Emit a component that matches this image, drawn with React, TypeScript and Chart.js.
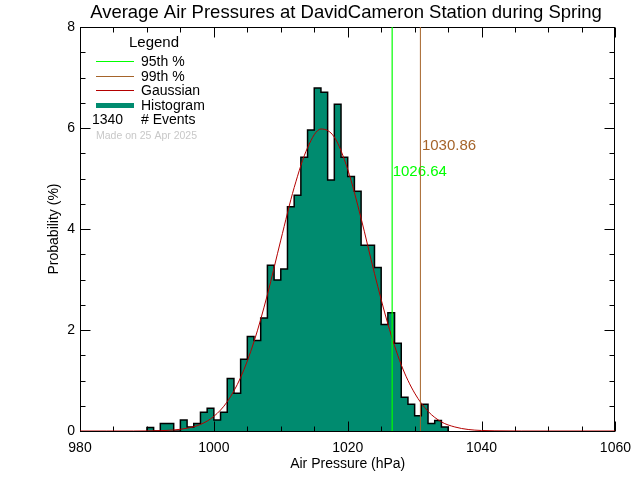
import React, { useEffect, useRef } from "react";
import { Chart, registerables } from "chart.js";

Chart.register(...registerables);

const TITLE = "Average Air Pressures at DavidCameron Station during Spring";
const X_TITLE = "Air Pressure (hPa)";
const Y_TITLE = "Probability (%)";

// histogram bins (left edges, 1 hPa wide) and probabilities (%)
const binEdges = [
  990, 991, 992, 993, 994, 995, 996, 997, 998, 999,
  1000, 1001, 1002, 1003, 1004, 1005, 1006, 1007, 1008, 1009,
  1010, 1011, 1012, 1013, 1014, 1015, 1016, 1017, 1018, 1019,
  1020, 1021, 1022, 1023, 1024, 1025, 1026, 1027, 1028, 1029,
  1030, 1031, 1032, 1033, 1034,
];
const binPercent = [
  0.07, 0, 0.15, 0.15, 0, 0.22, 0.08, 0.15, 0.37, 0.45,
  0.22, 0.37, 1.04, 0.75, 1.42, 1.87, 1.79, 2.24, 3.28, 2.99,
  3.21, 4.44, 4.67, 5.42, 5.96, 6.79, 6.71, 4.97, 6.47, 5.42,
  5.04, 4.75, 3.68, 3.68, 3.24, 2.11, 2.34, 1.74, 0.67, 0.53,
  0.3, 0.53, 0.15, 0.21, 0.08,
];
const BIN_WIDTH = 1;

// gaussian curve
const gaussX = [
  980, 984, 988, 990, 992, 994, 996, 998, 1000, 1002, 1004, 1006, 1008,
  1010, 1012, 1014, 1016, 1018, 1020, 1022, 1024, 1026, 1028, 1030, 1032,
  1034, 1036, 1038, 1040, 1042, 1046, 1050, 1060,
];
const gaussY = [
  0, 0, 0, 0.002, 0.007, 0.021, 0.055, 0.13, 0.29, 0.58, 1.06, 1.77, 2.7,
  3.78, 4.82, 5.61, 5.98, 5.82, 5.18, 4.21, 3.12, 2.12, 1.31, 0.75, 0.39,
  0.18, 0.08, 0.03, 0.01, 0.004, 0, 0, 0,
];

const p95Value = 1026.64;
const p99Value = 1030.86;
const eventCount = 1340;
const madeOn = "Made on 25 Apr 2025";
const legendTitle = "Legend";
const legendLabels = ["95th %", "99th %", "Gaussian", "Histogram"];

const X_MIN = 980, X_MAX = 1060, X_MAJOR = 20, X_MINOR = 5;
const Y_MIN = 0, Y_MAX = 8, Y_MAJOR = 2, Y_MINOR = 0.5;

const COLORS = {
  hist: "#008b6f",
  gauss: "#b40000",
  p95: "#00ff00",
  p99: "#a5642a",
  made: "#c8c8c8",
};
const FONT = "'Liberation Sans', Arial, sans-serif";

const framePlugin = {
  id: "frame",
  beforeDatasetsDraw(chart: any) {
    const { ctx, scales } = chart;
    const xs = scales.x, ys = scales.y;
    ctx.save();
    ctx.font = `15px ${FONT}`;
    ctx.textAlign = "left";
    ctx.textBaseline = "middle";
    ctx.fillStyle = COLORS.p95;
    ctx.fillText(p95Value.toFixed(2), xs.getPixelForValue(p95Value) + 0.5, ys.getPixelForValue(5.14));
    ctx.fillStyle = COLORS.p99;
    ctx.fillText(p99Value.toFixed(2), xs.getPixelForValue(p99Value) + 1.5, ys.getPixelForValue(5.64));
    ctx.restore();
  },
  afterDatasetDraw(chart: any, args: any) {
    if (args.index !== 0) return;
    const { ctx, chartArea: a, scales } = chart;
    const xs = scales.x, ys = scales.y;
    ctx.save();
    ctx.strokeStyle = "#000";
    ctx.lineWidth = 1;
    const L = Math.round(a.left) + 0.5;
    const R = Math.round(a.right) - 0.5;
    const T = Math.round(a.top) + 0.5;
    const B = Math.round(a.bottom) + 0.5;
    ctx.strokeRect(L, T, R - L, B - T);
    ctx.beginPath();
    for (let v = X_MIN; v <= X_MAX + 1e-9; v += X_MINOR) {
      const px = Math.round(xs.getPixelForValue(v)) + 0.5;
      const len = Math.abs((v - X_MIN) % X_MAJOR) < 1e-9 ? 10 : 5;
      ctx.moveTo(px, B); ctx.lineTo(px, B - len);
      ctx.moveTo(px, T); ctx.lineTo(px, T + len);
    }
    for (let v = Y_MIN; v <= Y_MAX + 1e-9; v += Y_MINOR) {
      const py = Math.round(ys.getPixelForValue(v)) + 0.5;
      const len = Math.abs((v - Y_MIN) % Y_MAJOR) < 1e-9 ? 10 : 5;
      ctx.moveTo(L, py); ctx.lineTo(L + len, py);
      ctx.moveTo(R, py); ctx.lineTo(R - len, py);
    }
    ctx.stroke();
    ctx.restore();
  },
  afterDraw(chart: any) {
    const { ctx, chartArea: a } = chart;
    ctx.save();
    ctx.fillStyle = "#000";
    ctx.textBaseline = "middle";
    // title
    ctx.font = `18.5px ${FONT}`;
    ctx.textAlign = "center";
    ctx.fillText(TITLE, 346, 13);
    // axis titles
    ctx.font = `14px ${FONT}`;
    ctx.fillText(X_TITLE, (a.left + a.right) / 2, 464);
    ctx.save();
    ctx.translate(54, (a.top + a.bottom) / 2);
    ctx.rotate(-Math.PI / 2);
    ctx.fillText(Y_TITLE, 0, 0);
    ctx.restore();
    // legend
    ctx.textAlign = "left";
    ctx.font = `15px ${FONT}`;
    ctx.fillText(legendTitle, 129, 43);
    const rowsY = [62, 77, 91, 106];
    const rowColors = [COLORS.p95, COLORS.p99, COLORS.gauss, COLORS.hist];
    ctx.font = `14px ${FONT}`;
    for (let i = 0; i < legendLabels.length; i++) {
      ctx.strokeStyle = rowColors[i];
      ctx.lineWidth = i === 3 ? 5 : 1;
      ctx.beginPath();
      ctx.moveTo(96, rowsY[i] - 0.5);
      ctx.lineTo(134, rowsY[i] - 0.5);
      ctx.stroke();
      ctx.fillStyle = "#000";
      ctx.fillText(legendLabels[i], 141, rowsY[i]);
    }
    ctx.fillText(String(eventCount), 92, 120);
    ctx.fillText("# Events", 141, 120);
    ctx.font = `10.5px ${FONT}`;
    ctx.fillStyle = COLORS.made;
    ctx.fillText(madeOn, 96, 136);
    ctx.restore();
  },
};

export default function App() {
  const canvasRef = useRef<HTMLCanvasElement | null>(null);

  useEffect(() => {
    const canvas = canvasRef.current;
    if (!canvas) return;

    const histPoints: { x: number; y: number }[] = [{ x: binEdges[0], y: 0 }];
    binEdges.forEach((e, i) => {
      histPoints.push({ x: e, y: binPercent[i] });
      histPoints.push({ x: e + BIN_WIDTH, y: binPercent[i] });
    });
    histPoints.push({ x: binEdges[binEdges.length - 1] + BIN_WIDTH, y: 0 });

    const gaussPoints = gaussX.map((x, i) => ({ x, y: gaussY[i] }));

    const chart = new Chart(canvas, {
      type: "line",
      data: {
        datasets: [
          {
            label: "Histogram",
            data: histPoints,
            borderColor: "#000",
            borderWidth: 1.5,
            backgroundColor: COLORS.hist,
            fill: "origin",
            pointRadius: 0,
            tension: 0,
            order: 4,
          },
          {
            label: "Gaussian",
            data: gaussPoints,
            borderColor: COLORS.gauss,
            borderWidth: 1,
            fill: false,
            pointRadius: 0,
            cubicInterpolationMode: "monotone",
            order: 3,
          },
          {
            label: "99th %",
            data: [{ x: p99Value, y: Y_MIN }, { x: p99Value, y: Y_MAX }],
            borderColor: COLORS.p99,
            borderWidth: 1,
            fill: false,
            pointRadius: 0,
            order: 2,
          },
          {
            label: "95th %",
            data: [{ x: p95Value, y: Y_MIN }, { x: p95Value, y: Y_MAX }],
            borderColor: COLORS.p95,
            borderWidth: 1.2,
            fill: false,
            pointRadius: 0,
            order: 1,
          },
        ],
      },
      options: {
        animation: false,
        responsive: false,
        devicePixelRatio: 1,
        layout: { padding: { top: 27, right: 24, left: 0, bottom: 0 } },
        plugins: {
          legend: { display: false },
          tooltip: { enabled: false },
          title: { display: false },
        },
        scales: {
          x: {
            type: "linear",
            min: X_MIN,
            max: X_MAX,
            ticks: {
              stepSize: X_MAJOR,
              autoSkip: false,
              maxRotation: 0,
              padding: 9,
              color: "#000",
              font: { family: FONT, size: 14 },
              callback: (v: any) => String(v),
            },
            grid: { display: false, drawTicks: false },
            border: { display: false },
            afterFit: (s: any) => { s.height = 49; },
          },
          y: {
            type: "linear",
            min: Y_MIN,
            max: Y_MAX,
            ticks: {
              stepSize: Y_MAJOR,
              padding: 5,
              color: "#000",
              font: { family: FONT, size: 14 },
              callback: (v: any) => String(v),
            },
            grid: { display: false, drawTicks: false },
            border: { display: false },
            afterFit: (s: any) => { s.width = 80; },
          },
        },
      },
      plugins: [framePlugin],
    } as any);

    return () => chart.destroy();
  }, []);

  return (
    <div style={{ position: "absolute", left: 0, top: 0, width: 640, height: 480, background: "#fff" }}>
      <canvas ref={canvasRef} width={640} height={480} style={{ display: "block" }} />
    </div>
  );
}
